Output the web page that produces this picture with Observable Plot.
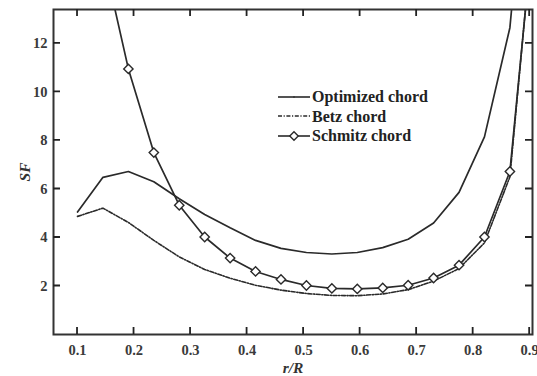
<!DOCTYPE html>
<html><head><meta charset="utf-8">
<script src="https://cdn.jsdelivr.net/npm/d3@7"></script>
<script src="https://cdn.jsdelivr.net/npm/@observablehq/plot@0.6"></script>
<style>
body{margin:0;background:#fff;}
#wrap{position:relative;width:537px;height:376px;font-family:"Liberation Serif",serif;}
#legend{position:absolute;left:277px;top:87px;font-weight:bold;font-size:16px;color:#222;line-height:19.5px;}
#legend div{display:flex;align-items:center;white-space:nowrap;}
#legend svg{margin-right:1px;}
#ticks{position:absolute;left:0;top:0;pointer-events:none;}
</style></head>
<body><div id="wrap"><div id="legend"></div></div>
<script>
const rR = [0.1,0.145,0.19,0.235,0.28,0.325,0.37,0.415,0.46,0.505,0.55,0.595,0.64,0.685,0.73,0.775,0.82,0.865,0.91];
const optimized = [5.05,6.48,6.72,6.3,5.6,4.95,4.4,3.88,3.55,3.38,3.32,3.38,3.58,3.93,4.6,5.86,8.15,12.65,24];
const betz = [4.87,5.21,4.62,3.88,3.2,2.68,2.32,2.03,1.83,1.69,1.61,1.6,1.67,1.85,2.2,2.72,3.78,6.5,17.8];
const schmitz = [null,15.6,10.95,7.5,5.33,4.02,3.15,2.6,2.27,2.02,1.9,1.88,1.92,2.03,2.33,2.86,4.02,6.72,17.6];
const schmitzMarkerIdx = [2,3,4,5,6,7,8,9,10,11,12,13,14,15,16,17];
const xTicks = [0.1,0.2,0.3,0.4,0.5,0.6,0.7,0.8,0.9];
const yTicks = [2,4,6,8,10,12];
const seriesNames = ["Optimized chord","Betz chord","Schmitz chord"];

const W = 537, H = 376, mL = 53, mR = 5, mT = 9, mB = 42;
const ink = "#2a2a2a";
const tl = 7;

const opt = rR.map((x,i)=>({x, y: optimized[i]}));
const bz = rR.map((x,i)=>({x, y: betz[i]}));
const sc = rR.map((x,i)=>({x, y: schmitz[i]})).filter(d=>d.y!=null);
const scM = schmitzMarkerIdx.map(i=>({x: rR[i], y: schmitz[i]}));

const plot = Plot.plot({
  width: W, height: H,
  marginLeft: mL, marginRight: mR, marginTop: mT, marginBottom: mB,
  style: {fontFamily: "'Liberation Serif', serif", fontWeight: "bold", fontSize: "14.5px", color: "#3a3a3a", background: "white"},
  x: {domain: [0.0575, 0.905]},
  y: {domain: [0, 13.4]},
  marks: [
    Plot.line(opt, {x:"x", y:"y", stroke: ink, strokeWidth: 1.7, clip: true}),
    Plot.line(bz, {x:"x", y:"y", stroke: ink, strokeWidth: 1.6, strokeDasharray: "4,1.6,1.2,1.6", clip: true}),
    Plot.line(sc, {x:"x", y:"y", stroke: ink, strokeWidth: 1.7, clip: true}),
    Plot.dot(scM, {x:"x", y:"y", symbol: "diamond2", r: 4.2, stroke: ink, strokeWidth: 1.4, fill: "white", clip: true}),
    Plot.axisX(xTicks, {tickSize: 0, tickPadding: 10, tickFormat: d3.format(".1f"), label: "r/R", labelAnchor: "center", labelOffset: 38}),
    Plot.axisY(yTicks, {tickSize: 0, tickPadding: 6, label: "SF", labelAnchor: "center", labelOffset: 35}),
    Plot.frame({stroke: "#333", strokeWidth: 2})
  ]
});
document.getElementById("wrap").prepend(plot);
const svg = d3.select(plot);
svg.select('g[aria-label="x-axis label"] text').text("r/R");
svg.select('g[aria-label="y-axis label"] text').text("SF");
svg.selectAll('g[aria-label="x-axis label"] text, g[aria-label="y-axis label"] text')
  .style("font-style","italic").style("font-size","15.5px").attr("fill","#333");

// inward ticks on all four sides, placed with Plot's own scales
const xs = plot.scale("x"), ys = plot.scale("y");
const x0 = mL, x1 = W - mR, y0 = mT, y1 = H - mB;
const ov = d3.select("#wrap").append("svg").attr("id","ticks").attr("width", W).attr("height", H);
const path = d3.path();
xTicks.forEach(v => {
  const px = xs.apply(v);
  path.moveTo(px, y1); path.lineTo(px, y1 - tl);
  path.moveTo(px, y0); path.lineTo(px, y0 + tl);
});
yTicks.forEach(v => {
  const py = ys.apply(v);
  path.moveTo(x0, py); path.lineTo(x0 + tl, py);
  path.moveTo(x1, py); path.lineTo(x1 - tl, py);
});
ov.append("path").attr("d", path.toString()).attr("fill","none").attr("stroke","#222").attr("stroke-width", 1.8);

// legend
const legend = d3.select("#legend");
const styles = [
  {dash: null, marker: "tick"},
  {dash: "4,1.6,1.2,1.6", marker: null},
  {dash: null, marker: "diamond"}
];
seriesNames.forEach((name, i) => {
  const row = legend.append("div");
  const s = row.append("svg").attr("width", 34).attr("height", 12);
  s.append("line").attr("x1",1).attr("x2",33).attr("y1",6).attr("y2",6)
    .attr("stroke", ink).attr("stroke-width", 1.6).attr("stroke-dasharray", styles[i].dash);
  if (styles[i].marker === "tick") s.append("line").attr("x1",17).attr("x2",17).attr("y1",5).attr("y2",7).attr("stroke",ink);
  if (styles[i].marker === "diamond") s.append("path").attr("d", d3.symbol(d3.symbolDiamond2, 46)()).attr("transform","translate(17,6)")
    .attr("fill","white").attr("stroke",ink).attr("stroke-width",1.4);
  row.append("span").text(name);
});
</script></body></html>
